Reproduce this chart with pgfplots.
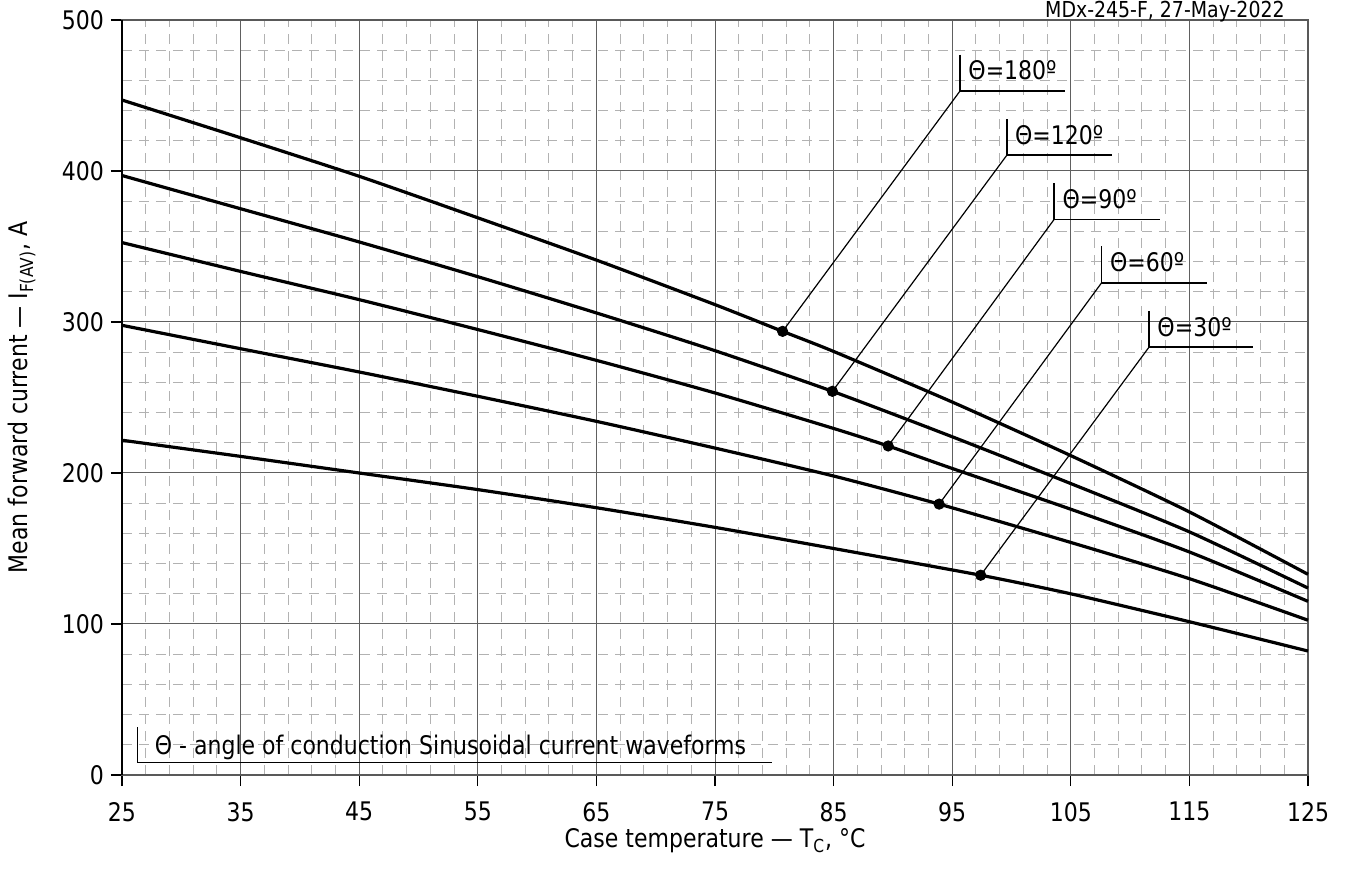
\documentclass[border=0pt]{standalone}
\usepackage{fontspec}
\setmainfont{DejaVu Sans}[FakeStretch=0.86]
\usepackage{pgfplots}
\pgfplotsset{compat=1.18}

\newcommand\fs{\fontsize{12.8}{15}\selectfont}

\begin{document}
\begin{tikzpicture}[font=\fs]
\begin{axis}[
  name=ax,
  scale only axis,
  width=593pt, height=377.5pt,
  xmin=25, xmax=125, ymin=0, ymax=500,
  xtick={25,35,...,125}, ytick={0,100,...,500},
  xtick pos=bottom, ytick pos=left,
  minor x tick num=4, minor y tick num=4,
  grid=both,
  major grid style={gray!75!black, line width=0.5pt},
  minor grid style={gray!60, dash pattern=on 5pt off 3.5pt, line width=0.5pt},
  tick align=outside,
  major tick length=5.5pt,
  minor tick length=0pt,
  tick style={black, line width=0.6pt},
  axis line style={gray!70!black, line width=0.7pt},
  tick label style={font=\fs},
  /pgf/number format/assume math mode=true,
  xticklabel style={yshift=-4.5pt},
  xlabel={Case temperature — T\textsubscript{C}, °C},
  ylabel={Mean forward current — I\textsubscript{F(AV)}, A},
  every axis x label/.style={at={(axis description cs:0.5,-0.0875)}, anchor=center, font=\fs},
  every axis y label/.style={at={(axis description cs:-0.0843,0.5)}, anchor=center, rotate=90, font=\fs},
  clip=false,
]
% curves, theta = 180, 120, 90, 60, 30
\addplot[black, line width=1.6pt, smooth, tension=0.4] coordinates {
  (25,447) (35,422) (45,396.5) (55,369) (65,341) (75,311.5) (80.7,293.8)
  (85,280.5) (95,247) (105,211.5) (115,174.2) (125,132.9)};
\addplot[black, line width=1.6pt, smooth, tension=0.4] coordinates {
  (25,397) (35,375) (45,353) (55,330) (65,306) (75,281) (84.9,254.1)
  (95,224) (105,193) (115,161) (125,123.8)};
\addplot[black, line width=1.6pt, smooth, tension=0.4] coordinates {
  (25,352.6) (35,333.5) (45,314.8) (55,295) (65,274.6) (75,253) (85,229.5)
  (89.6,217.9) (95,203) (105,176) (115,147.7) (125,115)};
\addplot[black, line width=1.6pt, smooth, tension=0.4] coordinates {
  (25,297.8) (35,282.3) (45,266.9) (55,250.8) (65,234.2) (75,216.5) (85,198)
  (93.9,179.4) (105,154) (115,130) (125,102.5)};
\addplot[black, line width=1.6pt, smooth, tension=0.4] coordinates {
  (25,221.7) (35,211) (45,200) (55,189) (65,177) (75,164) (85,150)
  (97.4,132.3) (105,120) (115,101.5) (125,82.1)};

% marked points
\addplot[only marks, mark=*, mark size=2.6pt, black] coordinates {
  (80.7,293.8) (84.9,254.1) (89.6,217.9) (93.9,179.4) (97.4,132.3)};

% leader lines
\addplot[black, line width=0.6pt] coordinates {(80.7,293.8) (95.66,453)};
\addplot[black, line width=0.6pt] coordinates {(84.9,254.1) (99.6,410.4)};
\addplot[black, line width=0.6pt] coordinates {(89.6,217.9) (103.6,368)};
\addplot[black, line width=0.6pt] coordinates {(93.9,179.4) (107.6,326)};
\addplot[black, line width=0.6pt] coordinates {(97.4,132.3) (111.6,283.4)};

% label brackets
\addplot[black, line width=0.8pt] coordinates {(95.66,477) (95.66,453) (104.5,453)};
\addplot[black, line width=0.8pt] coordinates {(99.6,434.4) (99.6,410.4) (108.5,410.4)};
\addplot[black, line width=0.8pt] coordinates {(103.6,392) (103.6,368) (112.5,368)};
\addplot[black, line width=0.8pt] coordinates {(107.6,350) (107.6,326) (116.5,326)};
\addplot[black, line width=0.8pt] coordinates {(111.6,307.4) (111.6,283.4) (120.4,283.4)};
\addplot[black, line width=0.8pt] coordinates {(26.3,31.6) (26.3,8.4) (79.8,8.4)};

\node[anchor=base west, font=\fs, inner sep=0pt, xshift=4pt, yshift=5.5pt] at (axis cs:95.66,453) {Θ=180º};
\node[anchor=base west, font=\fs, inner sep=0pt, xshift=4pt, yshift=5.5pt] at (axis cs:99.6,410.4) {Θ=120º};
\node[anchor=base west, font=\fs, inner sep=0pt, xshift=4pt, yshift=5.5pt] at (axis cs:103.6,368) {Θ=90º};
\node[anchor=base west, font=\fs, inner sep=0pt, xshift=4pt, yshift=5.5pt] at (axis cs:107.6,326) {Θ=60º};
\node[anchor=base west, font=\fs, inner sep=0pt, xshift=4pt, yshift=5.5pt] at (axis cs:111.6,283.4) {Θ=30º};
\node[anchor=base west, font=\fs, inner sep=0pt, xshift=8.5pt, yshift=4pt] at (axis cs:26.3,8.4) {Θ - angle of conduction Sinusoidal current waveforms};

\node[overlay, anchor=base east, font=\fontsize{11}{13}\selectfont, inner sep=0pt, yshift=1.4pt]
  at (rel axis cs:0.9806,1) {MDx-245-F, 27-May-2022};
\end{axis}
\draw[black, line width=1pt] (ax.south west) -- (ax.north west);
\path (ax.north west) ++(-61pt,10pt);
\path (ax.south east) ++(19.5pt,-50.5pt);
\end{tikzpicture}
\end{document}
